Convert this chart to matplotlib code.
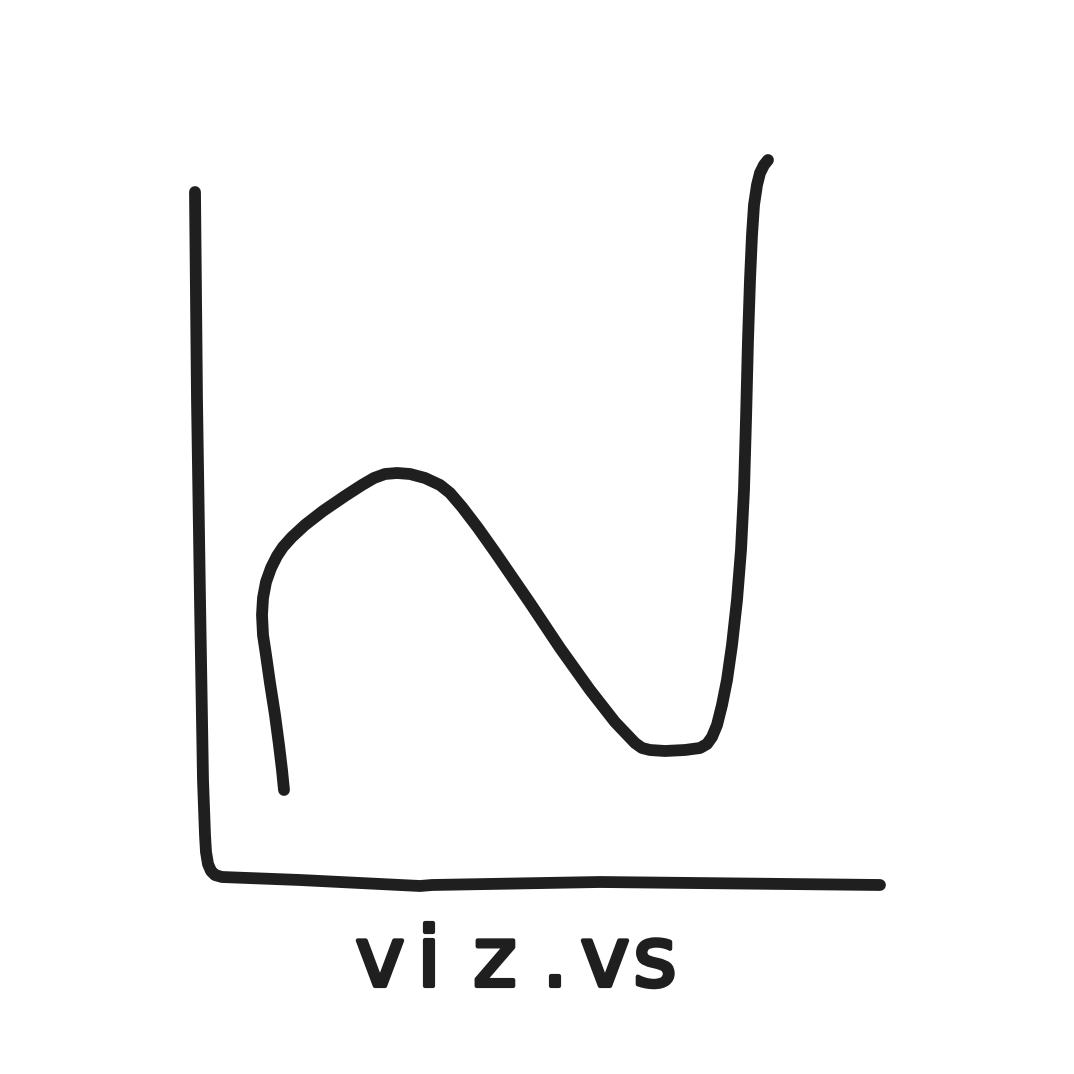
import numpy as np
import matplotlib.pyplot as plt
import matplotlib.patheffects as pe

# hand-drawn curve (x right, y up, axis corner at 0,0)
curve_x = [84, 82, 79, 75, 70, 66, 63, 62, 63, 66, 71, 77, 83, 92, 105, 123, 145, 162, 174,
           185, 197, 210, 225, 240, 250, 262, 278, 295, 330, 360, 390, 415, 435, 442, 450,
           465, 485, 500, 507, 512, 517, 522, 527, 532, 537, 541, 544, 546, 548, 550, 552,
           554, 557, 560, 564, 568]
curve_y = [90, 110, 135, 165, 197, 225, 245, 265, 282, 298, 312, 324, 333, 343, 355, 369, 384, 395, 402,
           406, 407, 406, 402, 395, 387, 373, 352, 328, 277, 232, 190, 158, 137, 132, 130,
           129, 130, 132, 136, 143, 155, 175, 200, 235, 280, 330, 390, 460, 540, 600, 645,
           675, 695, 707, 715, 720]

# hand-drawn axes (one stroke: top of y axis, corner, end of x axis)
axis_x = [-5, -3, 0, 3, 5, 6, 8, 11, 15, 22, 100, 160, 220, 232, 400, 680]
axis_y = [688, 480, 280, 100, 45, 28, 16, 9, 5, 3, 0, -3, -6, -5, -2, -5]

label_chars = ['v', 'i', 'z', '.', 'v', 's']
label_x = [380, 429, 495, 555, 605, 655]
label_x = [x - 200 for x in label_x]
label_y = -106

ink = '#1f1f1f'
fig = plt.figure(figsize=(10.74, 10.74), dpi=100)
ax = fig.add_axes([0, 0, 1, 1])
ax.set_xlim(-200, 874)
ax.set_ylim(-194, 880)
ax.axis('off')

ax.plot(axis_x, axis_y, color=ink, lw=8.5, solid_capstyle='round', solid_joinstyle='round')
ax.plot(curve_x, curve_y, color=ink, lw=8.5, solid_capstyle='round', solid_joinstyle='round')

for ch, x in zip(label_chars, label_x):
    ax.text(x, label_y, ch, ha='center', va='baseline', fontsize=60, color=ink,
            family='DejaVu Sans',
            path_effects=[pe.withStroke(linewidth=3, foreground=ink, capstyle='round',
                                        joinstyle='round')])

fig.savefig('out.png', dpi=100, facecolor='white')
